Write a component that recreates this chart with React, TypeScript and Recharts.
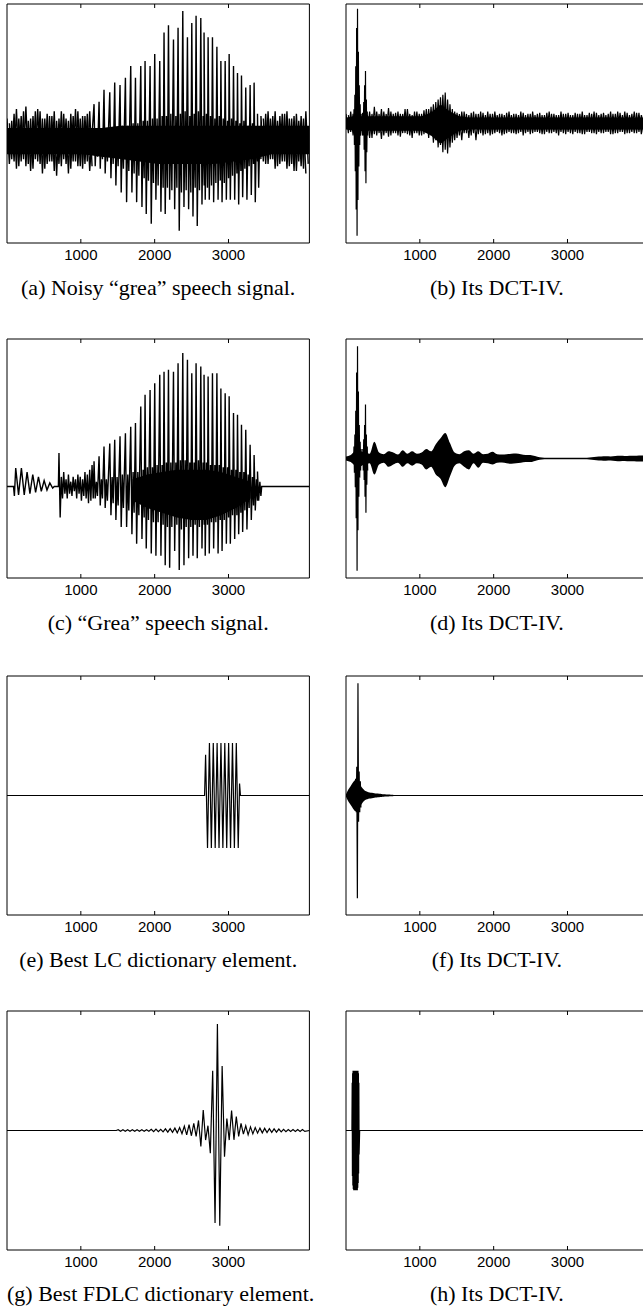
import React from 'react';
import { ComposedChart, Line, Area, XAxis, YAxis } from 'recharts';

// sample axis shared by every panel
const TICKS = [1000, 2000, 3000];
const N = 4096;

// pitch pulse positions of the "grea" utterance (samples)
const PITCH_X = [1179, 1247, 1314, 1392, 1459, 1531, 1604, 1676, 1740, 1812, 1870, 1938, 2001, 2069, 2127, 2187, 2255, 2317, 2381, 2444, 2503, 2561, 2625, 2669, 2724, 2783, 2843, 2897, 2955, 3009, 3068, 3122, 3176, 3234, 3293, 3347, 3393];

// (a) noisy speech
const aCoreHi = [5, 5, 5, 5, 5, 5, 6, 6, 6, 6, 6, 6, 6, 6, 6, 6, 6];
const aCoreLo = [-6, -6, -6, -6, -6, -7, -8, -9, -10, -10, -10, -10, -9, -8, -6, -6, -6];
const aLeadHi = [9, 8, 13, 10, 14, 9, 12, 12, 9, 10, 12, 9, 11, 8, 10, 12, 10, 11];
const aLeadLo = [-10, -9, -11, -8, -10, -12, -9, -14, -10, -9, -15, -11, -10, -12, -9, -11, -10, -13];
const aLead2Hi = [7, 11, 9, 12, 8, 10, 13, 9, 11, 10, 8, 12, 9, 11, 13, 9, 10, 12];
const aLead2Lo = [-8, -12, -9, -11, -13, -8, -10, -12, -9, -13, -10, -8, -14, -9, -11, -12, -9, -11];
const aVoicedHi = [15, 16, 21, 20, 24, 23, 26, 31, 26, 31, 33, 31, 36, 33, 45, 48, 42, 47, 54, 43, 49, 52, 51, 45, 43, 43, 39, 33, 33, 36, 31, 28, 27, 22, 23, 24, 11];
const aVoicedLo = [-11, -12, -14, -16, -19, -22, -26, -22, -26, -28, -31, -35, -25, -30, -31, -25, -29, -38, -28, -29, -32, -36, -27, -25, -25, -26, -25, -26, -25, -25, -25, -27, -24, -25, -23, -26, -20];
const aRingHi = [3, 4, 4, 5, 5, 6, 6, 7, 7, 8, 8, 9, 9, 10, 10, 11, 10, 11, 12, 10, 11, 12, 10, 11, 10, 9, 10, 9, 8, 9, 8, 7, 8, 6, 7, 5, 4];
const aRingLo = [-7, -8, -9, -10, -11, -12, -13, -14, -15, -16, -17, -18, -19, -20, -20, -21, -20, -22, -21, -22, -20, -21, -19, -20, -19, -18, -17, -18, -16, -15, -14, -13, -12, -11, -10, -9, -8];
const aTailHi = [10, 11, 9, 12, 10, 11, 9, 10, 8, 9];
const aTailLo = [-9, -10, -8, -11, -9, -12, -10, -13, -11, -14];
const aTail2Hi = [9, 12, 10, 8, 11, 12, 9, 11, 10, 12];
const aTail2Lo = [-10, -8, -12, -10, -9, -11, -13, -9, -12, -10];

// (b) DCT-IV of noisy speech
const bCoreHi = [2.5, 3, 3, 3, 3, 3, 3, 3, 3, 4.5, 8, 5, 3, 2.5, 2.5, 2.5, 2.5, 2.5, 2.5, 2.5, 2.5, 2.5, 2.5, 2.5, 2.5, 2.5, 2.5, 2.5, 2.5, 2.5, 2.5, 2.5, 2.5];
const bCoreLo = [-2.5, -3, -3, -3, -3, -3, -3, -3, -3, -5, -8.5, -5.5, -3, -2.5, -2.5, -2.5, -2.5, -2.5, -2.5, -2.5, -2.5, -2.5, -2.5, -2.5, -2.5, -2.5, -2.5, -2.5, -2.5, -2.5, -2.5, -2.5, -2.5];
const bNoiseHi = [4, 5, 3, 4, 3, 5, 7, 4, 5, 6.5, 4, 5, 4, 6, 3.5, 5, 4, 6, 7, 9, 11, 13, 8, 5, 4, 5, 3.5, 5, 4, 4.5, 5, 4, 3.5, 4, 4.5, 3.5, 4, 5, 3.5, 4, 3.5, 4.5, 3.5, 5, 4, 3.5, 4, 4.5, 3.5, 4, 5, 3.5, 4, 4.5, 4, 3.5, 5, 4, 4.5, 5, 3.5, 5, 4.5, 4];
const bNoiseLo = [-4, -5, -4, -5, -4, -6, -5, -6.5, -4, -5, -4, -5.5, -4, -5, -4, -5, -4.5, -6, -8, -10, -12, -12.5, -8, -6, -7, -4, -5, -7, -4, -4.5, -5, -4, -4, -4.5, -3.5, -4, -4, -5, -3.5, -4, -3.5, -4.5, -3.5, -4, -4, -3.5, -4.5, -4, -3.5, -4, -4.5, -3.5, -4, -3.5, -4, -3.5, -4.5, -4, -3.5, -4, -3.5, -4, -4.5, -3.5];
const bNoise2Hi = [3.5, 4, 6, 4.5, 3.5, 4, 5, 6, 4, 5, 4.5, 4, 6, 4, 5, 4, 5.5, 6, 8, 10, 12, 10, 6, 4.5, 5, 4, 4.5, 4, 5, 3.5, 4, 5, 4, 3.5, 5, 4, 3.5, 4.5, 4, 5, 4, 3.5, 4.5, 4, 3.5, 5, 4, 3.5, 4.5, 4, 3.5, 4.5, 5, 3.5, 4.5, 4, 4, 5, 3.5, 4.5, 4, 4.5, 3.5, 5];
const bNoise2Lo = [-3.5, -4.5, -5, -4, -6, -4.5, -4, -5, -5.5, -4, -5, -4, -4.5, -6, -4, -5, -4, -5, -7, -9, -11, -10, -7, -5, -4, -6, -4, -4.5, -5, -4, -4.5, -3.5, -5, -4, -4, -4.5, -3.5, -4, -4.5, -3.5, -4, -4.5, -4, -3.5, -5, -4, -3.5, -4.5, -4, -4.5, -3.5, -4, -4.5, -4, -3.5, -4.5, -4, -3.5, -4.5, -4, -4, -3.5, -4.5, -4];
const bPeak1Hi = [3, 6, 12, 24, 40, 48, 30, 16, 8, 4];
const bPeak1Lo = [-4, -9, -20, -36, -47, -32, -18, -9, -5, -3];
const bPeak2Hi = [4, 9, 16, 22, 10, 5];
const bPeak2Lo = [-5, -11, -20, -25, -12, -5];

// (c) clean speech
const cWigHi = [7.7, 7.7, 6, 5, 4, 2.5, 1.5];
const cWigLo = [-3.5, -3.5, -3, -2.5, -2, -1.5, -0.7];
const cBurstHi = [14, 4, 6, 3, 5, 2, 4, 3, 5, 4, 3, 6, 5, 7, 9];
const cBurstLo = [-13, -5, -3, -5, -3, -4, -2, -5, -3, -6, -4, -5, -7, -6, -5];
const cVoicedHi = [10.5, 12.6, 16.7, 18, 19.5, 21, 22.3, 25, 26.5, 33.5, 38.4, 40.4, 43.2, 46.7, 48, 48.8, 48, 51.6, 55.8, 53, 47.4, 51.6, 50.2, 46.7, 46, 47.4, 47.4, 41, 39, 37.7, 30.7, 30, 25.8, 23.7, 17.4, 13.2, 6.3];
const cVoicedLo = [-5, -8, -9, -12, -14, -17, -17, -20, -24, -22, -26, -28, -29, -29, -33, -34, -27, -35, -33, -30, -29, -30, -26, -29, -28, -26, -28, -27, -24, -24, -22, -20, -19, -18, -14, -10, -6];
const cRingHi = [2, 3, 3, 4, 4, 5, 5, 6, 6, 7, 8, 8, 9, 9, 10, 10, 10, 11, 11, 10, 10, 11, 10, 10, 9, 9, 9, 8, 8, 7, 7, 6, 6, 5, 4, 3, 2];
const cRingLo = [-4, -5, -6, -7, -8, -9, -10, -11, -12, -13, -14, -15, -15, -16, -17, -17, -16, -18, -17, -17, -16, -17, -16, -16, -15, -15, -14, -14, -13, -12, -12, -11, -10, -9, -8, -6, -4];
const cCoreHi = [3, 5, 6, 7, 7, 7, 6, 4, 2];
const cCoreLo = [-6, -9, -11, -13, -14, -14, -12, -9, -5];

// (d) DCT-IV of clean speech
const dEnvHi = [0.8, 1.5, 3, 3, 2.5, 2, 7, 2.5, 1.8, 3, 2.5, 1.7, 3.5, 2, 3, 2, 2.5, 4, 3, 6, 8.5, 10.7, 6.5, 2.5, 1.8, 3, 3.5, 2, 3, 1.8, 2, 2.8, 1.8, 1.7, 1.8, 2, 2.1, 1.8, 1.5, 1.5, 1, 0.5, 0.3, 0.3, 0.3, 0.3, 0.3, 0.3, 0.3, 0.3, 0.3, 0.3, 0.5, 0.7, 0.8, 0.9, 0.8, 1, 1.1, 1, 1.2, 1.1, 1.3, 1.2, 1.3];
const dEnvLo = [-0.8, -1.5, -3, -3, -2.5, -2, -6.7, -2.5, -1.8, -3.5, -2.5, -1.8, -3.5, -2, -3, -2, -2.5, -4.6, -3.5, -6.7, -8.5, -12, -7.5, -3, -2, -3.5, -4.6, -2, -3.9, -1.8, -2, -2.5, -1.8, -1.7, -2, -2.2, -2, -1.8, -1.5, -1.5, -1, -0.5, -0.3, -0.3, -0.3, -0.3, -0.3, -0.3, -0.3, -0.3, -0.3, -0.3, -0.5, -0.7, -0.8, -0.9, -0.8, -1, -1.1, -1, -1.2, -1.1, -1.3, -1.2, -1.3];
const dPeak1Hi = [2, 5, 10, 20, 36, 47, 28, 14, 7, 4];
const dPeak1Lo = [-2, -6, -12, -25, -47, -30, -16, -8, -5, -3];
const dPeak2Hi = [4, 8, 14, 22.6, 10, 5];
const dPeak2Lo = [-5, -9, -16, -22.7, -11, -5];

// (e) best LC dictionary element
const eHi = [17, 22, 22, 22, 22, 22, 22, 22, 22];
const eLo = [-22, -22, -22, -22, -22, -22, -22, -22, -22];

// (f) its DCT-IV
const fEnvHi = [0.5, 2.5, 4, 5.5, 6.5, 6.5, 4.5, 3, 2, 1.6, 1.3, 1.1, 0.9, 0.8, 0.7, 0.6, 0.5, 0.45, 0.4, 0.35, 0.3];
const fEnvLo = [-0.5, -2.5, -4, -5.5, -6.5, -6.5, -4.5, -3, -2, -1.6, -1.3, -1.1, -0.9, -0.8, -0.7, -0.6, -0.5, -0.45, -0.4, -0.35, -0.3];
const fPeakHi = [7, 12, 47, 10, 6];
const fPeakLo = [-7, -43, -11, -7, -5];

// (g) best FDLC dictionary element
const gHi = [0.3, 0.3, 0.3, 0.3, 0.3, 0.3, 0.3, 0.5, 0.6, 0.5, 0.7, 0.8, 1, 1.2, 1.8, 2.5, 3, 4.2, 8.6, 2, 25, 44.6, 27, 5, 8.4, 5.8, 3, 2, 1.5, 1.2, 1, 0.9, 0.8, 0.7, 0.6, 0.5, 0.4, 0.4, 0.4, 0.4];
const gLo = [-0.3, -0.3, -0.3, -0.3, -0.3, -0.3, -0.3, -0.5, -0.5, -0.6, -0.7, -0.8, -1, -1.3, -1.8, -2.2, -2.5, -6.7, -4, -9.5, -38.7, -39.8, -11, -4, -3.9, -2.5, -1.5, -1.8, -1.4, -1.1, -1, -0.9, -0.8, -0.7, -0.6, -0.5, -0.4, -0.4, -0.4, -0.4];

// (h) its DCT-IV
const hHi = [20, 24, 25, 25, 25, 25, 25, 25, 25, 25, 25, 25, 25, 25, 24, 20];
const hLo = [-19, -23, -24.5, -25, -25, -25, -25, -25, -25, -25, -25, -25, -24, -22, -18, -10];

type Pt = { x: number; y: number };

const zigzag = (start: number, step: number, hi: number[], lo: number[]): Pt[] =>
  hi.flatMap((h, i) => [
    { x: start + i * step, y: h },
    { x: start + i * step + step / 2, y: lo[i] },
  ]);

// one pitch period: main peak, main trough, then the smaller ringing swing
const pulses = (xs: number[], hi: number[], lo: number[], ringHi: number[], ringLo: number[]): Pt[] =>
  xs.flatMap((x, i) => [
    { x, y: hi[i] },
    { x: x + 16, y: lo[i] },
    { x: x + 32, y: ringHi[i] },
    { x: x + 46, y: ringLo[i] },
  ]);

const pts = (pairs: number[][]): Pt[] => pairs.map(([x, y]) => ({ x, y }));

const band = (start: number, step: number, hi: number[], lo: number[]) =>
  hi.map((h, i) => ({ x: start + i * step, range: [lo[i], h] }));

const ZERO = pts([[0, 0], [N, 0]]);

const panels = [
  {
    col: 0, row: 0, domain: [-43.1, 56.9], caption: '(a) Noisy “grea” speech signal.', sw: 1.4, curve: 'linear',
    bands: [band(0, 256, aCoreHi, aCoreLo)],
    lines: [
      [...zigzag(0, 64, aLeadHi, aLeadLo), ...pulses(PITCH_X, aVoicedHi, aVoicedLo, aRingHi, aRingLo), ...zigzag(3440, 64, aTailHi, aTailLo)],
      zigzag(32, 64, aLead2Hi, aLead2Lo),
      zigzag(3472, 64, aTail2Hi, aTail2Lo),
    ],
  },
  {
    col: 1, row: 0, domain: [-50, 50], caption: '(b) Its DCT-IV.', sw: 1.2, curve: 'linear',
    bands: [band(0, 128, bCoreHi, bCoreLo)],
    lines: [zigzag(0, 64, bNoiseHi, bNoiseLo), zigzag(32, 64, bNoise2Hi, bNoise2Lo), zigzag(96, 12, bPeak1Hi, bPeak1Lo), zigzag(228, 12, bPeak2Hi, bPeak2Lo)],
  },
  {
    col: 0, row: 1, domain: [-38.3, 61.7], caption: '(c) “Grea” speech signal.', sw: 1.4, curve: 'linear',
    bands: [band(1700, 200, cCoreHi, cCoreLo)],
    lines: [[
      ...pts([[0, 0], [88, 0], [100, -4]]),
      ...zigzag(118, 77, cWigHi, cWigLo),
      ...pts([[640, 0], [696, 0]]),
      ...zigzag(704, 32, cBurstHi, cBurstLo),
      ...pulses(PITCH_X, cVoicedHi, cVoicedLo, cRingHi, cRingLo),
      ...pts([[3450, 0], [N, 0]]),
    ]],
  },
  {
    col: 1, row: 1, domain: [-50, 50], caption: '(d) Its DCT-IV.', sw: 1.2, curve: 'monotone',
    bands: [band(0, 64, dEnvHi, dEnvLo)],
    lines: [ZERO, zigzag(96, 12, dPeak1Hi, dPeak1Lo), zigzag(228, 12, dPeak2Hi, dPeak2Lo)],
  },
  {
    col: 0, row: 2, domain: [-50, 50], caption: '(e) Best LC dictionary element.', sw: 1.2, curve: 'linear',
    bands: [],
    lines: [[...pts([[0, 0], [2676, 0]]), ...zigzag(2690, 52, eHi, eLo), ...pts([[3150, 5], [3162, 0], [N, 0]])]],
  },
  {
    col: 1, row: 2, domain: [-50, 50], caption: '(f) Its DCT-IV.', sw: 1.2, curve: 'monotone',
    bands: [band(0, 32, fEnvHi, fEnvLo)],
    lines: [ZERO, zigzag(130, 16, fPeakHi, fPeakLo)],
  },
  {
    col: 0, row: 3, domain: [-50, 50], caption: '(g) Best FDLC dictionary element.', sw: 1.2, curve: 'linear',
    bands: [],
    lines: [[...pts([[0, 0], [1480, 0]]), ...zigzag(1506, 64, gHi, gLo), ...pts([[N, 0]])]],
  },
  {
    col: 1, row: 3, domain: [-50, 50], caption: '(h) Its DCT-IV.', sw: 1.2, curve: 'linear',
    bands: [],
    lines: [[...pts([[0, 0], [80, 0]]), ...zigzag(84, 6, hHi, hLo), ...pts([[185, 0], [N, 0]])]],
  },
];

const BOX_LEFT = [7, 345.7];
const ROW_TOP = [4, 339.3, 676, 1010.7];
const BOX_W = 302.4;
const BOX_H = 239;
const CHART_W = 340;
const TOP_PAD = 6;
const BOTTOM_PAD = 30;
const LEFT_PAD = 7;

const BottomTick = (props: any) => {
  const { x, y, payload } = props;
  return (
    <g>
      <line x1={x} x2={x} y1={y} y2={y - 4} stroke="#000" strokeWidth={1} />
      <text x={x} y={y + 16.5} textAnchor="middle" fontFamily="'Liberation Sans', Arial, sans-serif" fontSize={15} fill="#000">
        {payload.value}
      </text>
    </g>
  );
};

const TopTick = (props: any) => {
  const { x, y } = props;
  return <line x1={x} x2={x} y1={y} y2={y + 4} stroke="#000" strokeWidth={1} />;
};

function Panel({ p }: { p: (typeof panels)[number] }) {
  const left = BOX_LEFT[p.col];
  const top = ROW_TOP[p.row];
  return (
    <>
      <div style={{ position: 'absolute', left: left - LEFT_PAD, top: top - TOP_PAD }}>
        <ComposedChart width={CHART_W} height={TOP_PAD + BOX_H + BOTTOM_PAD} margin={{ top: 0, right: 0, bottom: 0, left: 0 }}>
          <XAxis xAxisId="b" dataKey="x" type="number" domain={[0, N]} allowDataOverflow ticks={TICKS} interval={0}
            height={BOTTOM_PAD} tickSize={0} tickMargin={0} tickLine={false} axisLine={{ stroke: '#000' }} tick={(t: any) => <BottomTick {...t} />} />
          <XAxis xAxisId="t" orientation="top" dataKey="x" type="number" domain={[0, N]} allowDataOverflow ticks={TICKS} interval={0}
            height={TOP_PAD} tickSize={0} tickMargin={0} tickLine={false} axisLine={{ stroke: '#000' }} tick={(t: any) => <TopTick {...t} />} />
          <YAxis yAxisId="l" type="number" domain={p.domain} allowDataOverflow width={LEFT_PAD} tick={false} tickLine={false} axisLine={{ stroke: '#000' }} />
          <YAxis yAxisId="r" orientation="right" type="number" domain={p.domain} allowDataOverflow width={CHART_W - LEFT_PAD - BOX_W} tick={false} tickLine={false} axisLine={{ stroke: '#000' }} />
          {p.bands.map((b, i) => (
            <Area key={`b${i}`} xAxisId="b" yAxisId="l" data={b} dataKey="range" type={p.curve as any} stroke="none" fill="#000" fillOpacity={1} isAnimationActive={false} />
          ))}
          {p.lines.map((l, i) => (
            <Line key={`l${i}`} xAxisId="b" yAxisId="l" data={l} dataKey="y" type="linear" stroke="#000" strokeWidth={p.sw} dot={false} activeDot={false} isAnimationActive={false} />
          ))}
        </ComposedChart>
      </div>
      <div style={{
        position: 'absolute', left, top: top + BOX_H + 33.6, width: BOX_W, textAlign: 'center',
        fontFamily: "'Liberation Serif', 'Times New Roman', serif", fontSize: 22, lineHeight: '22px', whiteSpace: 'nowrap', color: '#000',
      }}>
        {p.caption}
      </div>
    </>
  );
}

export default function App() {
  return (
    <div style={{ position: 'absolute', left: 0, top: 0, width: 643, height: 1309, overflow: 'hidden', background: '#fff' }}>
      {panels.map((p, i) => <Panel key={i} p={p} />)}
    </div>
  );
}
